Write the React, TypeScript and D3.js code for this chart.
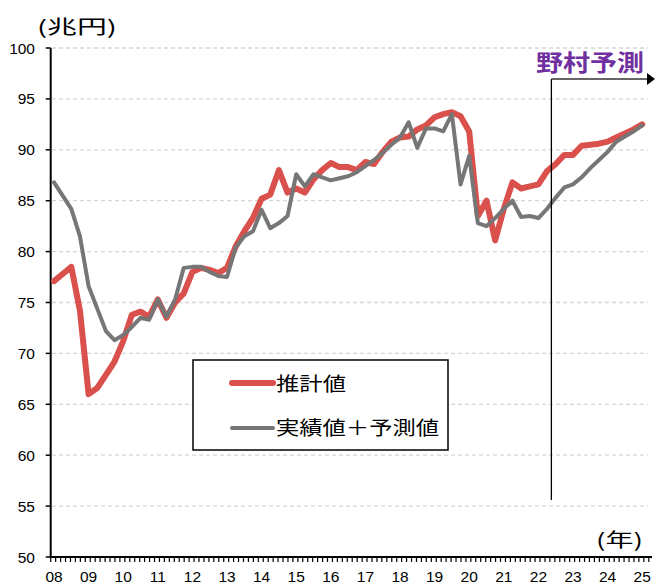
import React from "react";
import * as d3 from "d3";

const startYear = 2008;
const yearLabels = ["08","09","10","11","12","13","14","15","16","17","18","19","20","21","22","23","24","25"];
const yTicks = [50,55,60,65,70,75,80,85,90,95,100];

const estimated = [
  77.1, 77.8, 78.5, 74.2, 66.0, 66.6, 67.9, 69.2, 71.2, 73.8,
  74.1, 73.6, 75.3, 73.5, 75.0, 75.9, 78.0, 78.4, 78.2, 77.9,
  78.4, 80.5, 82.0, 83.3, 85.2, 85.6, 88.0, 85.8, 86.2, 85.8,
  87.1, 88.0, 88.7, 88.3, 88.3, 88.0, 88.8, 88.6, 89.8, 90.8,
  91.2, 91.3, 92.0, 92.4, 93.2, 93.5, 93.7, 93.3, 91.8, 83.5,
  85.0, 81.1, 84.2, 86.8, 86.2, 86.4, 86.6, 87.9, 88.6, 89.5,
  89.5, 90.4, 90.5, 90.6, 90.8, 91.2, 91.6, 92.0, 92.5,
];

const actualForecast = [
  86.8, 85.5, 84.2, 81.5, 76.6, 74.4, 72.2, 71.3, 71.8, 72.6,
  73.5, 73.3, 75.3, 73.6, 75.3, 78.4, 78.5, 78.5, 78.0, 77.6,
  77.5, 80.4, 81.5, 82.0, 84.1, 82.3, 82.8, 83.5, 87.6, 86.4,
  87.6, 87.3, 87.0, 87.2, 87.4, 87.8, 88.4, 89.0, 89.7, 90.5,
  91.2, 92.7, 90.2, 92.1, 92.1, 91.8, 93.5, 86.6, 89.4, 82.8,
  82.5, 83.3, 84.2, 85.0, 83.4, 83.5, 83.3, 84.2, 85.3, 86.3,
  86.6, 87.3, 88.2, 89.0, 89.8, 90.8, 91.3, 91.8, 92.4,
];

const forecastStart = 2022.375; // between 2022Q2 and 2022Q3
const ticksPerYear = 7;

const RED = "#d9504c";
const GRAY = "#767676";
const CJK = "'Noto Sans CJK JP', sans-serif";
const NUM = "'Liberation Sans', Arial, sans-serif";

export default function App() {
  const W = 655, H = 587;
  const x = d3.scaleLinear().domain([2008, 2025]).range([54, 642.2]);
  const y = d3.scaleLinear().domain([50, 100]).range([557, 48]);
  const t = (i: number) => startYear + i / 4;
  const line = d3.line<number>().x((_, i) => x(t(i))).y((d) => y(d));

  const axisLeft = 50.7;
  const axisRight = 652;
  const minorTicks = d3.range(0, Math.floor((axisRight - axisLeft) / (x(2009) - x(2008)) * ticksPerYear) + 1)
    .map((k) => axisLeft + k * (x(2009) - x(2008)) / ticksPerYear);

  const fx = x(forecastStart);

  return (
    <svg width={W} height={H} style={{ position: "absolute", left: 0, top: 0, background: "#fff" }}>
      {/* gridlines */}
      {yTicks.filter((v) => v > 50).map((v) => (
        <line key={v} x1={52} x2={648} y1={y(v)} y2={y(v)} stroke="#d6d6d6" strokeWidth={1.3} strokeDasharray="4,3" />
      ))}
      {/* y axis */}
      <line x1={axisLeft} x2={axisLeft} y1={y(100)} y2={y(50)} stroke="#000" strokeWidth={2} />
      {yTicks.map((v) => (
        <g key={v}>
          <line x1={axisLeft - 5} x2={axisLeft} y1={y(v)} y2={y(v)} stroke="#000" strokeWidth={1.5} />
          <text x={35} y={y(v)} textAnchor="end" dominantBaseline="central" fontFamily={NUM} fontSize={15.5} fill="#000">{v}</text>
        </g>
      ))}
      {/* x axis */}
      <line x1={axisLeft - 1} x2={axisRight} y1={y(50)} y2={y(50)} stroke="#000" strokeWidth={2} />
      {minorTicks.map((px, i) => (
        <line key={i} x1={px} x2={px} y1={y(50)} y2={y(50) + 5} stroke="#000" strokeWidth={1.2} />
      ))}
      {yearLabels.map((lab, i) => (
        <text key={lab} x={x(startYear + i)} y={582} textAnchor="middle" fontFamily={NUM} fontSize={15.5} fill="#000">{lab}</text>
      ))}
      {/* unit labels */}
      <text x={37} y={33.5} fontFamily={CJK} fontSize={19} textLength={80} lengthAdjust="spacingAndGlyphs" fill="#000">(兆円)</text>
      <text x={596} y={547} fontFamily={CJK} fontSize={19} textLength={47} lengthAdjust="spacingAndGlyphs" fill="#000">(年)</text>

      {/* series */}
      <path d={line(estimated) || ""} fill="none" stroke={RED} strokeWidth={6} strokeLinejoin="round" strokeLinecap="round" />
      <path d={line(actualForecast) || ""} fill="none" stroke={GRAY} strokeWidth={4} strokeLinejoin="round" strokeLinecap="round" />

      {/* forecast marker */}
      <line x1={fx} x2={fx} y1={79} y2={500} stroke="#000" strokeWidth={1.3} />
      <line x1={fx} x2={647} y1={79} y2={79} stroke="#333" strokeWidth={1.5} />
      <path d={`M647,73 L655,79 L647,85 Z`} fill="#000" />
      <text x={536} y={71} fontFamily={CJK} fontWeight={700} fontSize={23} textLength={108} lengthAdjust="spacingAndGlyphs" fill="#7030a0">野村予測</text>

      {/* legend */}
      <rect x={193} y={360} width={255} height={90} fill="#fff" stroke="#000" strokeWidth={1.5} />
      <line x1={232} x2={273} y1={383} y2={383} stroke={RED} strokeWidth={6} strokeLinecap="round" />
      <text x={276} y={390.5} fontFamily={CJK} fontSize={19.5} textLength={70} lengthAdjust="spacingAndGlyphs" fill="#000">推計値</text>
      <line x1={232} x2={273} y1={428} y2={428} stroke={GRAY} strokeWidth={4} strokeLinecap="round" />
      <text x={276} y={435} fontFamily={CJK} fontSize={19.5} textLength={163} lengthAdjust="spacingAndGlyphs" fill="#000">実績値＋予測値</text>
    </svg>
  );
}
